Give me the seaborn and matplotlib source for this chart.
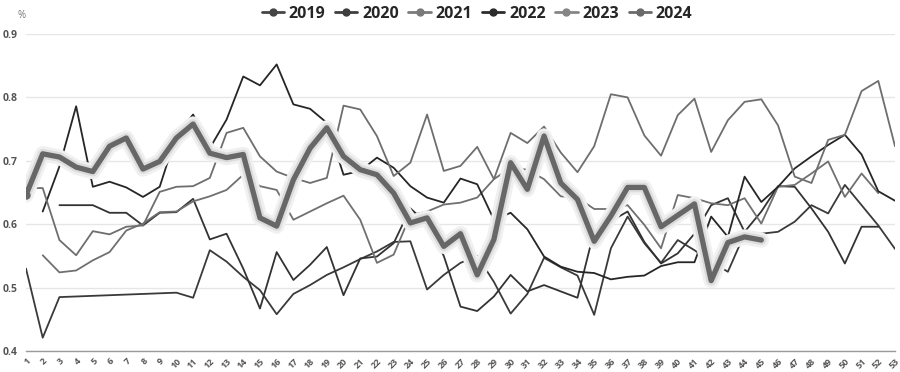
import numpy as np
import pandas as pd
import matplotlib
matplotlib.use("Agg")
import matplotlib.pyplot as plt
import matplotlib.patheffects as pe
from matplotlib.lines import Line2D
import seaborn as sns

# ==== data ====
weeks = list(range(1, 54))
N = None

y2019 = [.530, .421, .485, .486, .487, .488, .489, .490, .491, .492,
         .484, .559, .541, .517, .496, .458, .490, .504, .520, .532,
         .545, .557, .572, .573, .497, .520, .539, .550, .509, .459,
         .490, .547, .532, .519, .457, .562, .612, .570, .539, .575,
         .559, .541, .525, .585, .585, .588, .604, .630, .617, .662,
         .630, .598, .561]
y2020 = [N, N, .630, .630, .630, .618, .618, .598, .618, .619,
         .640, .576, .585, .530, .467, .556, .512, .536, .564, .488,
         .546, .549, .570, .625, .601, .550, .470, .463, .486, .520,
         .494, .504, .494, .484, .590, .605, .620, .572, .538, .554,
         .585, .630, .641, .588, .620, .660, .659, .625, .588, .538,
         .596, .596, N]
y2021 = [N, .551, .524, .527, .543, .556, .590, .601, .619, .620,
         .636, .644, .654, .678, .660, .654, .607, .620, .633, .645,
         .607, .539, .552, .614, .620, .631, .634, .642, .671, .689,
         .686, .671, .644, .642, .624, .624, .630, .599, .562, .646,
         .641, .633, .630, .641, .601, .659, .662, .680, .699, .643,
         .680, .649, N]
y2022 = [N, .620, .691, .786, .659, .667, .658, .643, .659, .741,
         .773, .720, .765, .833, .819, .852, .789, .782, .760, .678,
         .684, .705, .689, .660, .642, .634, .672, .663, .607, .618,
         .592, .549, .533, .525, .523, .513, .517, .519, .534, .540,
         .540, .612, .580, .675, .635, .659, .688, .707, .725, .741,
         .710, .652, .637]
y2023 = [.657, .657, .575, .551, .589, .584, .596, .598, .651, .659,
         .660, .673, .744, .752, .707, .683, .673, .665, .673, .787,
         .781, .739, .676, .697, .773, .684, .692, .722, .671, .744,
         .728, .754, .713, .682, .723, .805, .800, .740, .708, .772,
         .798, .714, .764, .793, .797, .756, .675, .665, .733, .741,
         .810, .826, .723]
y2024 = [.646, .711, .706, .690, .683, .723, .736, .687, .699, .736,
         .758, .712, .705, .710, .610, .597, .670, .720, .752, .707,
         .686, .678, .649, .602, .610, .565, .585, .520, .576, .697,
         .655, .739, .665, .639, .573, .613, .658, .658, .596, .614,
         .632, .511, .571, .580, .575] + [N] * 8

years = ["2019", "2020", "2021", "2022", "2023", "2024"]
series = [y2019, y2020, y2021, y2022, y2023, y2024]
colors = {"2019": "#3a3a3a", "2020": "#333333", "2021": "#707070",
          "2022": "#262626", "2023": "#6e6e6e", "2024": "#676767"}
marker_colors = {"2019": "#454545", "2020": "#3e3e3e", "2021": "#7a7a7a",
                 "2022": "#2c2c2c", "2023": "#858585", "2024": "#6a6a6a"}

df = pd.DataFrame({"week": weeks})
for yr, vals in zip(years, series):
    df[yr] = pd.to_numeric(pd.Series(vals), errors="coerce")
df_long = df.melt(id_vars="week", var_name="year", value_name="value").dropna()

# ==== plot ====
sns.set_style("white")
plt.rcParams["font.family"] = ["Open Sans", "DejaVu Sans"]

fig = plt.figure(figsize=(9, 3.72), dpi=100)
ax = fig.add_axes([26 / 900, 21 / 372, 869 / 900, 317 / 372])

for yr in years:
    d = df_long[df_long["year"] == yr]
    if yr == "2024":
        sns.lineplot(data=d, x="week", y="value", ax=ax, color=colors[yr],
                     linewidth=3.8, estimator=None, sort=False, zorder=5,
                     path_effects=[pe.Stroke(linewidth=11, foreground="#f0f0f0"),
                                   pe.Stroke(linewidth=7, foreground="#dcdcdc"),
                                   pe.Normal()])
        first = d.iloc[0]
        ax.plot(first["week"], first["value"], "o", color=colors[yr], ms=5, zorder=6)
    else:
        sns.lineplot(data=d, x="week", y="value", ax=ax, color=colors[yr],
                     linewidth=1.3, estimator=None, sort=False, zorder=3)

ax.set_xlim(1, 53)
ax.set_ylim(0.4, 0.9)
ax.set_xlabel("")
ax.set_ylabel("")
ax.set_yticks([0.4, 0.5, 0.6, 0.7, 0.8, 0.9])
ax.set_yticklabels(["0.4", "0.5", "0.6", "0.7", "0.8", "0.9"],
                   fontsize=7.5, color="#555555", fontweight="bold")
ax.set_xticks(weeks)
ax.set_xticklabels([str(w) for w in weeks], rotation=45, ha="right",
                   rotation_mode="anchor", fontsize=6.5, color="#555555",
                   fontweight="bold")
ax.tick_params(axis="y", length=0, pad=6)
ax.tick_params(axis="x", length=3, width=0.8, color="#9a9a9a", pad=1, direction="out")
ax.grid(axis="y", color="#e6e6e6", linewidth=1)
ax.set_axisbelow(True)
for s in ["top", "right", "left"]:
    ax.spines[s].set_visible(False)
ax.spines["bottom"].set_color("#9a9a9a")
ax.spines["bottom"].set_linewidth(1)

fig.text(22 / 900, 1 - 15 / 372, "%", fontsize=7, color="#777777", ha="center", va="center")

handles = [Line2D([0], [0], color=marker_colors[yr], lw=2, marker="o", ms=5)
           for yr in years]
fig.legend(handles, years, loc="center", bbox_to_anchor=(0.53, 1 - 14 / 372),
           ncol=6, frameon=False, handlelength=1.4, handletextpad=0.3,
           columnspacing=0.6, prop={"weight": "bold", "size": 11.5})

plt.savefig("out.png", dpi=100)
